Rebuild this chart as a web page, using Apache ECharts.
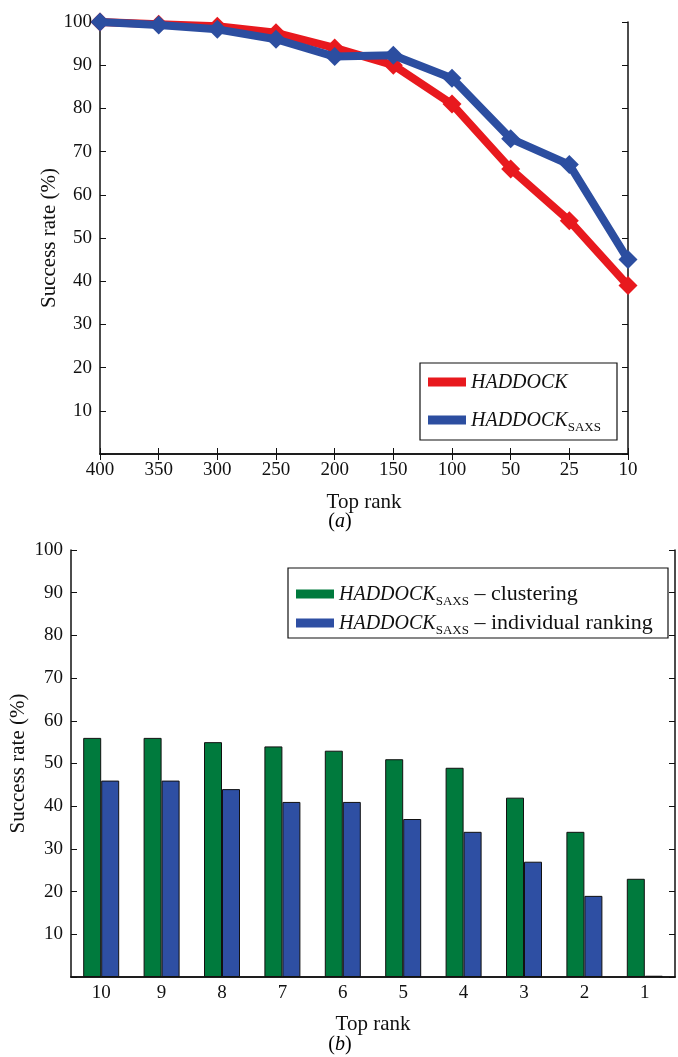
<!DOCTYPE html>
<html><head><meta charset="utf-8">
<script src="https://cdn.jsdelivr.net/npm/echarts@6/dist/echarts.min.js"></script>
<style>html,body{margin:0;padding:0;background:#fff}#c{width:678px;height:1057px}</style>
</head><body><div id="c"></div>
<script>
const topRanksA = ['400','350','300','250','200','150','100','50','25','10'];
const haddock = [100, 99.5, 99, 97.5, 94, 90, 81, 66, 54, 39];
const haddockSaxs = [100, 99.3, 98.3, 96, 92, 92.3, 87, 73, 67, 45];
const topRanksB = ['10','9','8','7','6','5','4','3','2','1'];
const clustering = [56, 56, 55, 54, 53, 51, 49, 42, 34, 23];
const individual = [46, 46, 44, 41, 41, 37, 34, 27, 19, 0.3];

const FONT = 'Liberation Serif';
const chart = echarts.init(document.getElementById('c'), null, {renderer:'canvas'});
const lab = {fontFamily: FONT, fontSize: 19, color: '#111'};
const nameStyle = {fontFamily: FONT, fontSize: 21, color: '#111'};
const legendRich = {
  i: {fontFamily: FONT, fontSize: 20, fontStyle: 'italic', color: '#111', verticalAlign: 'bottom', lineHeight: 22},
  s: {fontFamily: FONT, fontSize: 13, color: '#111', verticalAlign: 'bottom', lineHeight: 18, padding:[0,0,-3,0]},
  t: {fontFamily: FONT, fontSize: 22, color: '#111', verticalAlign: 'bottom', lineHeight: 22}
};
const capRich = {
  p: {fontFamily: FONT, fontSize: 20, color: '#111'},
  i: {fontFamily: FONT, fontSize: 20, fontStyle: 'italic', color: '#111'}
};
function yAxisMain(gi, nameGap){
  return {gridIndex: gi, type: 'value', min: 0, max: 100, interval: 10,
    name: 'Success rate (%)', nameLocation: 'middle', nameGap: nameGap, nameRotate: 90,
    nameMoveOverlap: false,
    nameTextStyle: nameStyle,
    axisLine: {show: true, lineStyle: {color: '#111', width: 1.5}},
    axisTick: {show: true, inside: true, length: 6, lineStyle: {color: '#111'}},
    axisLabel: Object.assign({formatter: v => v === 0 ? '' : v, margin: 8}, lab),
    splitLine: {show: false}};
}
function yAxisRight(gi){
  return {gridIndex: gi, type: 'value', min: 0, max: 100, interval: 10, position: 'right',
    axisLine: {show: true, lineStyle: {color: '#111', width: 1.5}},
    axisTick: {show: true, inside: true, length: 6, lineStyle: {color: '#111'}},
    axisLabel: {show: false}, splitLine: {show: false}};
}
const option = {
  backgroundColor: '#fff',
  animation: false,
  grid: [
    {left: 100, right: 50, top: 22, bottom: 603, outerBoundsMode: 'none', containLabel: false},
    {left: 71, right: 3, top: 550, bottom: 80, outerBoundsMode: 'none', containLabel: false}
  ],
  xAxis: [
    {gridIndex: 0, type: 'category', data: topRanksA, boundaryGap: false,
      name: 'Top rank', nameLocation: 'middle', nameGap: 38, nameTextStyle: nameStyle, nameMoveOverlap: false,
      axisLine: {lineStyle: {color: '#111', width: 1.5}},
      axisTick: {inside: true, length: 6, lineStyle: {color: '#111'}},
      axisLabel: Object.assign({margin: 7}, lab)},
    {gridIndex: 0, type: 'category', data: topRanksA, boundaryGap: false, position: 'top',
      axisLine: {lineStyle: {color: '#111', width: 1.5}},
      axisTick: {inside: true, length: 6, lineStyle: {color: '#111'}},
      axisLabel: {show: false}},
    {gridIndex: 1, type: 'category', data: topRanksB,
      name: 'Top rank', nameLocation: 'middle', nameGap: 37, nameTextStyle: nameStyle, nameMoveOverlap: false,
      axisLine: {lineStyle: {color: '#111', width: 1.5}},
      axisTick: {show: false},
      axisLabel: Object.assign({margin: 7}, lab)},
    {gridIndex: 1, type: 'category', data: topRanksB, position: 'top',
      axisLine: {lineStyle: {color: '#111', width: 1.5}},
      axisTick: {inside: true, alignWithLabel: true, length: 6, lineStyle: {color: '#111'}},
      axisLabel: {show: false}}
  ],
  yAxis: [yAxisMain(0, 40), yAxisRight(0), yAxisMain(1, 42), yAxisRight(1)],
  legend: [
    {data: ['HADDOCK', 'HADDOCK_SAXS'], orient: 'vertical', left: 428, top: 373, z: 100,
      itemGap: 18, padding: 0, icon: 'rect', itemWidth: 38, itemHeight: 9,
      itemStyle: {borderWidth: 0},
      formatter: n => n === 'HADDOCK' ? '{i|HADDOCK}' : '{i|HADDOCK}{s|SAXS}',
      textStyle: {rich: legendRich}},
    {data: ['clustering', 'individual'], orient: 'vertical', left: 296, top: 583, z: 100,
      itemGap: 4, padding: 0, icon: 'rect', itemWidth: 38, itemHeight: 9,
      itemStyle: {borderWidth: 0},
      formatter: n => n === 'clustering' ? '{i|HADDOCK}{s|SAXS}{t| – clustering}' : '{i|HADDOCK}{s|SAXS}{t| – individual ranking}',
      textStyle: {rich: legendRich}}
  ],
  series: [
    {name: 'HADDOCK', type: 'line', xAxisIndex: 0, yAxisIndex: 0, data: haddock,
      color: '#E8191E', lineStyle: {width: 8, color: '#E8191E'},
      symbol: 'diamond', symbolSize: 19, itemStyle: {color: '#E8191E'}, z: 2},
    {name: 'HADDOCK_SAXS', type: 'line', xAxisIndex: 0, yAxisIndex: 0, data: haddockSaxs,
      color: '#2C4EA0', lineStyle: {width: 8, color: '#2C4EA0'},
      symbol: 'diamond', symbolSize: 19, itemStyle: {color: '#2C4EA0'}, z: 3},
    {name: 'clustering', type: 'bar', xAxisIndex: 2, yAxisIndex: 2, data: clustering,
      color: '#007A3D', barWidth: 18, barGap: '0%',
      itemStyle: {color: '#007A3D', borderColor: '#111', borderWidth: 1}},
    {name: 'individual', type: 'bar', xAxisIndex: 2, yAxisIndex: 2, data: individual,
      color: '#2E4FA3', barWidth: 18, barGap: '0%',
      itemStyle: {color: '#2E4FA3', borderColor: '#111', borderWidth: 1}}
  ],
  graphic: [
    {type: 'rect', shape: {x: 420, y: 363, width: 197, height: 77}, z: 5,
      style: {fill: '#fff', stroke: '#111', lineWidth: 1.2}},
    {type: 'rect', shape: {x: 288, y: 568, width: 380, height: 70}, z: 5,
      style: {fill: '#fff', stroke: '#111', lineWidth: 1.2}},
    {type: 'text', x: 340, y: 522, z: 60, style: {text: '{p|(}{i|a}{p|)}', rich: capRich, align: 'center', verticalAlign: 'middle'}},
    {type: 'text', x: 340, y: 1045, z: 60, style: {text: '{p|(}{i|b}{p|)}', rich: capRich, align: 'center', verticalAlign: 'middle'}}
  ]
};
chart.setOption(option);
</script></body></html>
